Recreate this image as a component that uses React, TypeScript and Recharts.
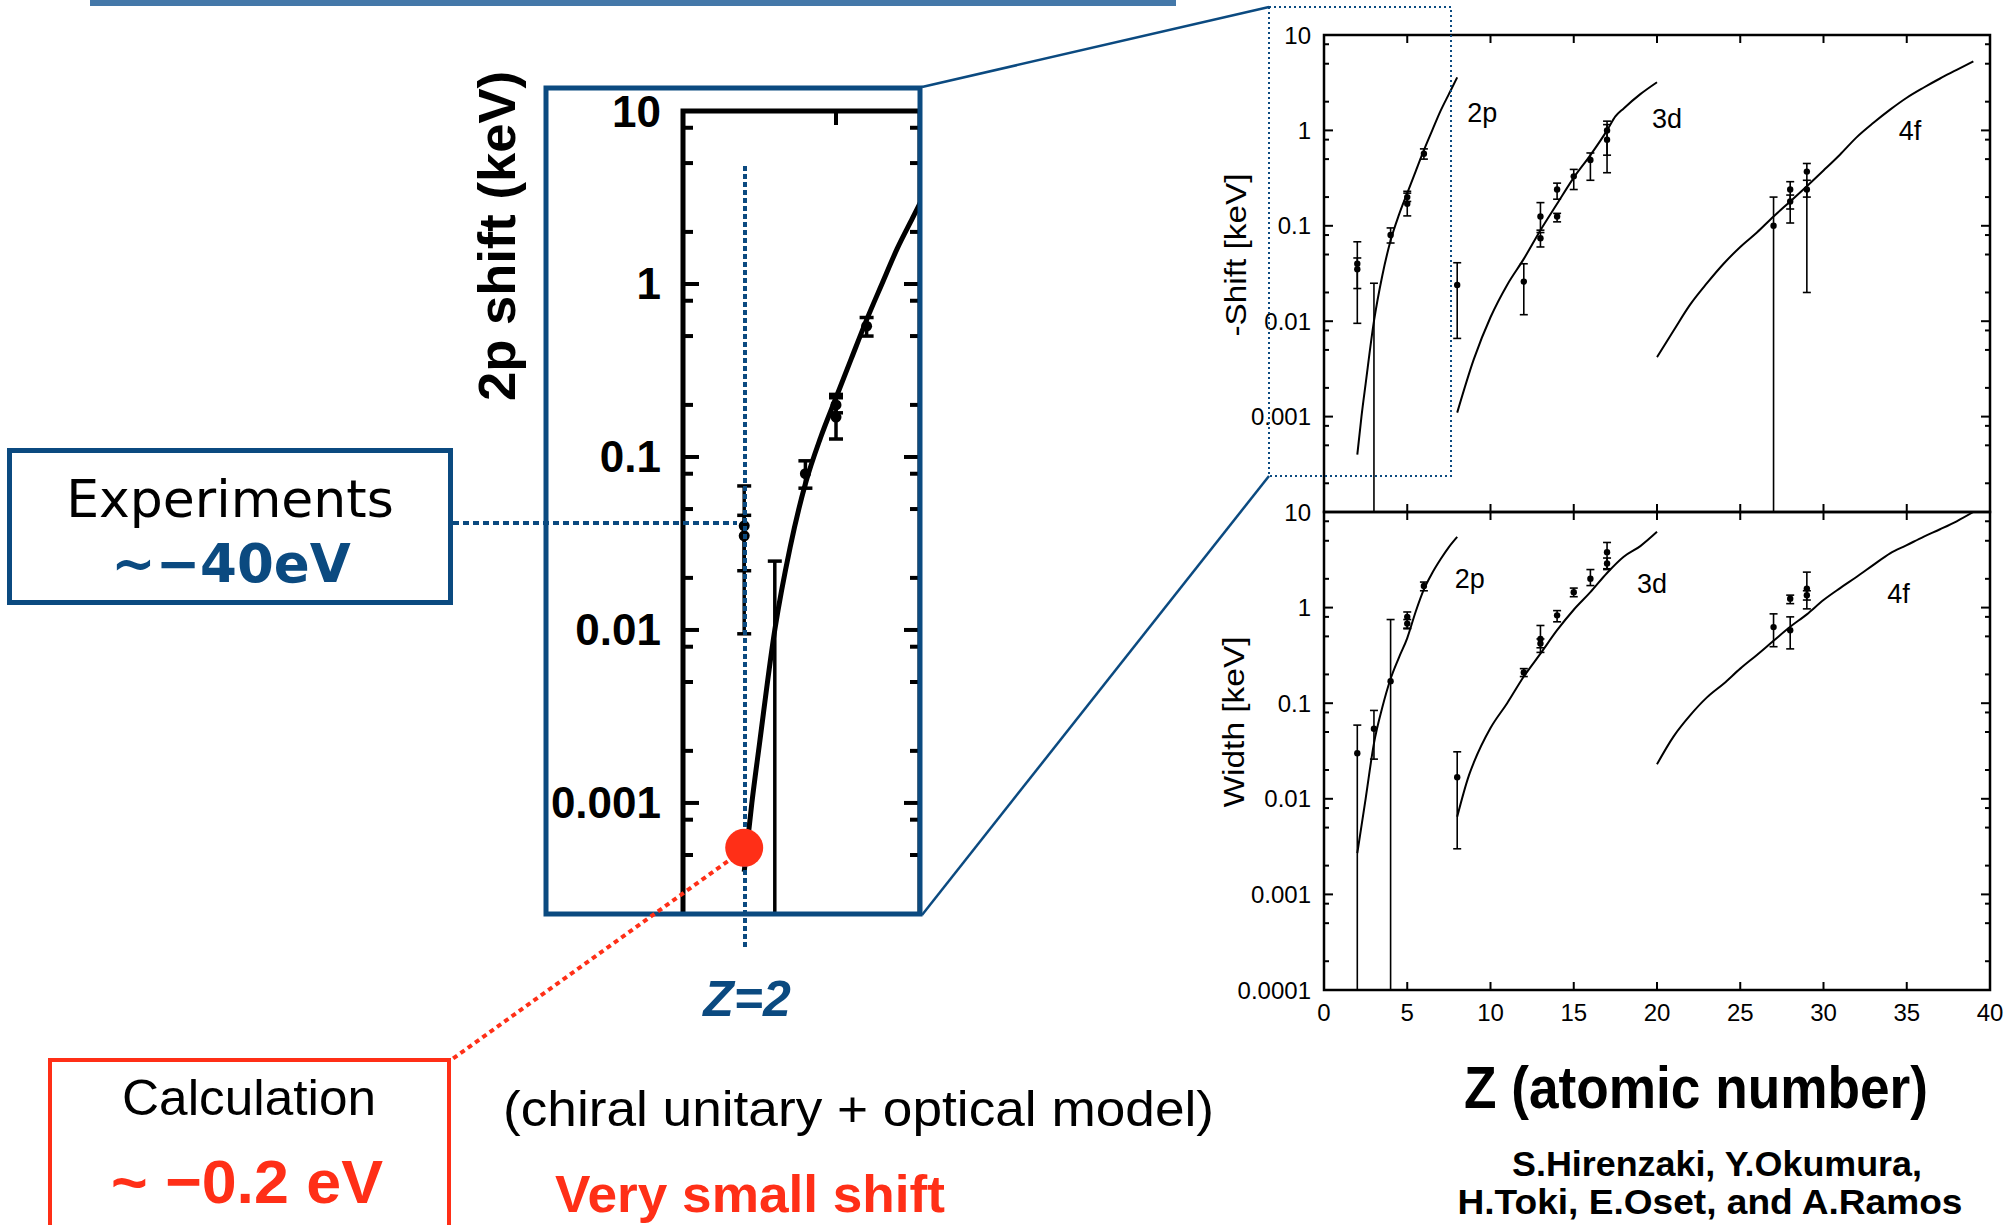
import React from "react";
import {
  ComposedChart,
  Line,
  Scatter,
  ErrorBar,
  XAxis,
  YAxis,
  ReferenceArea,
  ReferenceDot,
} from "recharts";

// theory curves (Z, keV)
const shift2p = [
  { z: 2, v: 0.0004 }, { z: 2.25, v: 0.001 }, { z: 2.5, v: 0.0022 }, { z: 3, v: 0.01 },
  { z: 3.5, v: 0.03 }, { z: 4, v: 0.07 }, { z: 4.5, v: 0.13 }, { z: 5, v: 0.22 },
  { z: 5.5, v: 0.37 }, { z: 6, v: 0.62 }, { z: 6.5, v: 1.0 }, { z: 7, v: 1.6 },
  { z: 7.5, v: 2.4 }, { z: 8, v: 3.6 },
];
const shift3d = [
  { z: 8, v: 0.0011 }, { z: 9, v: 0.004 }, { z: 10, v: 0.011 }, { z: 11, v: 0.024 },
  { z: 12, v: 0.045 }, { z: 13, v: 0.09 }, { z: 14, v: 0.17 }, { z: 15, v: 0.32 },
  { z: 16, v: 0.55 }, { z: 17, v: 1.0 }, { z: 17.5, v: 1.4 }, { z: 18, v: 1.7 },
  { z: 19, v: 2.4 }, { z: 20, v: 3.2 },
];
const shift4f = [
  { z: 20, v: 0.0042 }, { z: 21, v: 0.008 }, { z: 22, v: 0.015 }, { z: 23, v: 0.025 },
  { z: 24, v: 0.04 }, { z: 25, v: 0.06 }, { z: 26, v: 0.085 }, { z: 27, v: 0.125 },
  { z: 28, v: 0.18 }, { z: 29, v: 0.26 }, { z: 30, v: 0.38 }, { z: 31, v: 0.56 },
  { z: 32, v: 0.85 }, { z: 33, v: 1.2 }, { z: 34, v: 1.65 }, { z: 35, v: 2.2 },
  { z: 36, v: 2.8 }, { z: 37, v: 3.5 }, { z: 38, v: 4.3 }, { z: 39, v: 5.3 },
];
const width2p = [
  { z: 2, v: 0.0027 }, { z: 2.5, v: 0.01 }, { z: 3, v: 0.038 }, { z: 3.5, v: 0.09 },
  { z: 4, v: 0.18 }, { z: 4.5, v: 0.3 }, { z: 5, v: 0.48 }, { z: 5.5, v: 0.9 },
  { z: 6, v: 1.55 }, { z: 6.5, v: 2.3 }, { z: 7, v: 3.2 }, { z: 7.5, v: 4.3 }, { z: 8, v: 5.5 },
];
const width3d = [
  { z: 8, v: 0.0065 }, { z: 8.7, v: 0.0175 }, { z: 9, v: 0.024 }, { z: 10, v: 0.055 },
  { z: 11, v: 0.1 }, { z: 12, v: 0.19 }, { z: 13, v: 0.33 }, { z: 14, v: 0.58 },
  { z: 15, v: 0.95 }, { z: 16, v: 1.45 }, { z: 17, v: 2.3 }, { z: 18, v: 3.4 },
  { z: 19, v: 4.4 }, { z: 20, v: 6.2 },
];
const width4f = [
  { z: 20, v: 0.023 }, { z: 21, v: 0.045 }, { z: 22, v: 0.075 }, { z: 23, v: 0.115 },
  { z: 24, v: 0.16 }, { z: 25, v: 0.23 }, { z: 26, v: 0.32 }, { z: 27, v: 0.45 },
  { z: 28, v: 0.63 }, { z: 29, v: 0.85 }, { z: 30, v: 1.2 }, { z: 31, v: 1.6 },
  { z: 32, v: 2.1 }, { z: 33, v: 2.8 }, { z: 34, v: 3.7 }, { z: 35, v: 4.5 },
  { z: 36, v: 5.5 }, { z: 37, v: 6.6 }, { z: 38, v: 8.0 }, { z: 39, v: 10 },
];

// measured points: value with lower / upper end of the error bar (keV)
const shiftExp = [
  { z: 2, v: 0.035, lo: 0.0095, hi: 0.068 },
  { z: 2, v: 0.04, lo: 0.022, hi: 0.046 },
  { z: 3, v: 0.025, lo: 0.0001, hi: 0.025, dot: false },
  { z: 4, v: 0.08, lo: 0.066, hi: 0.095 },
  { z: 5, v: 0.17, lo: 0.127, hi: 0.23 },
  { z: 5, v: 0.2, lo: 0.18, hi: 0.22 },
  { z: 6, v: 0.57, lo: 0.5, hi: 0.64 },
  { z: 8, v: 0.024, lo: 0.0066, hi: 0.041 },
  { z: 12, v: 0.026, lo: 0.0117, hi: 0.04 },
  { z: 13, v: 0.125, lo: 0.09, hi: 0.175 },
  { z: 13, v: 0.074, lo: 0.06, hi: 0.085 },
  { z: 14, v: 0.125, lo: 0.11, hi: 0.135 },
  { z: 14, v: 0.24, lo: 0.19, hi: 0.28 },
  { z: 15, v: 0.33, lo: 0.24, hi: 0.39 },
  { z: 16, v: 0.49, lo: 0.3, hi: 0.58 },
  { z: 17, v: 0.8, lo: 0.36, hi: 1.15 },
  { z: 17, v: 1.0, lo: 0.55, hi: 1.25 },
  { z: 27, v: 0.1, lo: 0.0001, hi: 0.2 },
  { z: 28, v: 0.24, lo: 0.107, hi: 0.29 },
  { z: 28, v: 0.18, lo: 0.15, hi: 0.21 },
  { z: 29, v: 0.37, lo: 0.02, hi: 0.45 },
  { z: 29, v: 0.24, lo: 0.2, hi: 0.3 },
];
const widthExp = [
  { z: 2, v: 0.03, lo: 0.0001, hi: 0.059 },
  { z: 3, v: 0.054, lo: 0.026, hi: 0.084 },
  { z: 4, v: 0.17, lo: 0.0001, hi: 0.75 },
  { z: 5, v: 0.8, lo: 0.61, hi: 0.9 },
  { z: 5, v: 0.68, lo: 0.6, hi: 0.75 },
  { z: 6, v: 1.68, lo: 1.5, hi: 1.85 },
  { z: 8, v: 0.0168, lo: 0.003, hi: 0.031 },
  { z: 12, v: 0.21, lo: 0.19, hi: 0.23 },
  { z: 13, v: 0.47, lo: 0.34, hi: 0.65 },
  { z: 13, v: 0.42, lo: 0.38, hi: 0.47 },
  { z: 14, v: 0.83, lo: 0.71, hi: 0.93 },
  { z: 15, v: 1.45, lo: 1.3, hi: 1.6 },
  { z: 16, v: 2.0, lo: 1.7, hi: 2.5 },
  { z: 17, v: 3.8, lo: 2.55, hi: 4.8 },
  { z: 17, v: 2.9, lo: 2.5, hi: 3.3 },
  { z: 27, v: 0.625, lo: 0.39, hi: 0.86 },
  { z: 28, v: 0.58, lo: 0.37, hi: 0.8 },
  { z: 28, v: 1.24, lo: 1.1, hi: 1.35 },
  { z: 29, v: 1.58, lo: 0.97, hi: 2.35 },
  { z: 29, v: 1.35, lo: 1.2, hi: 1.5 },
];

// calculated 2p shift at Z=2 (highlighted red dot)
const calcPoint = [{ z: 2, v: 0.00055 }];

const shiftCurveLabels = [
  { text: "2p", z: 9.5, v: 1.54 },
  { text: "3d", z: 20.6, v: 1.33 },
  { text: "4f", z: 35.2, v: 1.0 },
];
const widthCurveLabels = [
  { text: "2p", z: 8.75, v: 2.04 },
  { text: "3d", z: 19.7, v: 1.81 },
  { text: "4f", z: 34.5, v: 1.42 },
];

const zTicks = [0, 5, 10, 15, 20, 25, 30, 35, 40];
const decadeTicks = [0.0001, 0.001, 0.01, 0.1, 1, 10];
const minorTicks = [0.0002, 0.0005, 0.0008, 0.002, 0.005, 0.008, 0.02, 0.05, 0.08, 0.2, 0.5, 0.8, 2, 5, 8];
const shiftTickLabels = ["10", "1", "0.1", "0.01", "0.001"];
const widthTickLabels = ["10", "1", "0.1", "0.01", "0.001", "0.0001"];

const LEFT_ZMAX = 7.745;
const LEFT_FLOOR = 0.000225;

const NAVY = "#0b4a80";
const RED = "#ff2f17";
const SANS = "Liberation Sans, Arial, Helvetica, sans-serif";

const allTicks = [...decadeTicks, ...minorTicks].sort((a, b) => a - b);
const leftTicks = allTicks.filter((t) => t >= LEFT_FLOOR);

const withErr = (rows: typeof shiftExp) => rows.map((r) => ({ ...r, err: [r.v - r.lo, r.hi - r.v] }));

type YTickOpts = {
  plotW: number; len: number; minorLen: number; sw: number;
  labels: string[]; gap: number; font: number; bold?: boolean;
};

function yTick(o: YTickOpts) {
  return (p: any) => {
    const v = p.payload.value;
    const major = decadeTicks.includes(v);
    const l = major ? o.len : o.minorLen;
    const label = String(v);
    return (
      <g>
        <line x1={p.x} y1={p.y} x2={p.x + l} y2={p.y} stroke="#000" strokeWidth={o.sw} />
        <line x1={p.x + o.plotW} y1={p.y} x2={p.x + o.plotW - l} y2={p.y} stroke="#000" strokeWidth={o.sw} />
        {major && o.labels.includes(label) ? (
          <text x={p.x - o.gap} y={p.y} textAnchor="end" dominantBaseline="central"
            fontSize={o.font} fontWeight={o.bold ? 700 : 400} fontFamily={SANS} fill="#000">
            {label}
          </text>
        ) : null}
      </g>
    );
  };
}

function zTick(o: { plotH: number; len: number; sw: number; labels: boolean; bottom: boolean }) {
  return (p: any) => (
    <g>
      {o.bottom && <line x1={p.x} y1={p.y} x2={p.x} y2={p.y - o.len} stroke="#000" strokeWidth={o.sw} />}
      <line x1={p.x} y1={p.y - o.plotH} x2={p.x} y2={p.y - o.plotH + o.len} stroke="#000" strokeWidth={o.sw} />
      {o.labels && (
        <text x={p.x} y={p.y + 22} textAnchor="middle" dominantBaseline="central"
          fontSize={24} fontFamily={SANS} fill="#000">
          {p.payload.value}
        </text>
      )}
    </g>
  );
}

const smallDot = (r: number) => (p: any) =>
  p.payload.dot === false ? <g /> : <circle cx={p.cx} cy={p.cy} r={r} fill="#000" />;

function RightPanel(props: {
  top: number; height: number; marginTop: number; axisH: number;
  curves: { z: number; v: number }[][]; exp: any[]; curveLabels: typeof shiftCurveLabels;
  tickLabels: string[]; zLabels: boolean;
}) {
  const plotW = 808 - 124 - 18;
  const plotH = props.height - props.marginTop - props.axisH;
  return (
    <div style={{ position: "absolute", left: 1200, top: props.top }}>
      <ComposedChart width={808} height={props.height}
        margin={{ top: props.marginTop, right: 18, left: 0, bottom: 0 }}>
        <XAxis type="number" dataKey="z" domain={[0, 40]} ticks={zTicks} interval={0}
          allowDataOverflow axisLine={false} tickLine={false} tickSize={0} tickMargin={0}
          height={props.axisH} tick={zTick({ plotH, len: 8, sw: 2, labels: props.zLabels, bottom: true })} />
        <YAxis type="number" scale="log" domain={[0.0001, 10]} ticks={allTicks} interval={0}
          allowDataOverflow axisLine={false} tickLine={false} tickSize={0} tickMargin={0} width={124}
          tick={yTick({ plotW, len: 9, minorLen: 5, sw: 2, labels: props.tickLabels, gap: 13, font: 24 })} />
        <ReferenceArea x1={0} x2={40} y1={0.0001} y2={10} fill="none" fillOpacity={0}
          stroke="#000" strokeWidth={2.5} />
        {props.curves.map((c, i) => (
          <Line key={i} data={c} dataKey="v" type="monotone" dot={false} stroke="#000"
            strokeWidth={2} isAnimationActive={false} />
        ))}
        <Scatter data={props.exp} dataKey="v" isAnimationActive={false} shape={smallDot(3.2)}>
          <ErrorBar dataKey="err" direction="y" width={4} stroke="#000" strokeWidth={1.6} />
        </Scatter>
        {props.curveLabels.map((l) => (
          <ReferenceDot key={l.text} x={l.z} y={l.v} r={0} fill="none" stroke="none"
            label={{ value: l.text, position: "center", fontSize: 27, fill: "#000", fontFamily: SANS }} />
        ))}
      </ComposedChart>
    </div>
  );
}

function LeftAxes() {
  return (
    <>
      <XAxis type="number" dataKey="z" domain={[0, LEFT_ZMAX]} ticks={[5]} interval={0}
        allowDataOverflow axisLine={false} tickLine={false} tickSize={0} tickMargin={0} height={1}
        tick={zTick({ plotH: 804, len: 14, sw: 4, labels: false, bottom: false })} />
      <YAxis type="number" scale="log" domain={[LEFT_FLOOR, 10]} ticks={leftTicks} interval={0}
        allowDataOverflow axisLine={false} tickLine={false} tickSize={0} tickMargin={0} width={139}
        tick={yTick({ plotW: 237, len: 16, minorLen: 10, sw: 4, labels: shiftTickLabels, gap: 22, font: 44, bold: true })} />
    </>
  );
}

export default function App() {
  const shiftRows = withErr(shiftExp);
  const widthRows = withErr(widthExp);
  const zoomRows = shiftRows.filter((r) => r.z < LEFT_ZMAX);

  return (
    <div style={{ position: "absolute", left: 0, top: 0, width: 2008, height: 1225, background: "#fff", overflow: "hidden" }}>
      <RightPanel top={0} height={520} marginTop={35} axisH={8}
        curves={[shift2p, shift3d, shift4f]} exp={shiftRows} curveLabels={shiftCurveLabels}
        tickLabels={shiftTickLabels} zLabels={false} />
      <RightPanel top={500} height={530} marginTop={12} axisH={40}
        curves={[width2p, width3d, width4f]} exp={widthRows} curveLabels={widthCurveLabels}
        tickLabels={widthTickLabels} zLabels={true} />

      {/* magnified 2p shift panel */}
      <div style={{ position: "absolute", left: 544, top: 86, width: 378, height: 830, overflow: "hidden" }}>
        <ComposedChart width={378} height={830} margin={{ top: 25, right: 2, left: 0, bottom: 0 }}>
          {LeftAxes()}
          <ReferenceArea x1={0} x2={LEFT_ZMAX} y1={LEFT_FLOOR} y2={10} fill="none" fillOpacity={0}
            stroke="#000" strokeWidth={5} ifOverflow="visible" />
          <Line data={shift2p} dataKey="v" type="monotone" dot={false} stroke="#000"
            strokeWidth={5} isAnimationActive={false} />
          <Scatter data={zoomRows} dataKey="v" isAnimationActive={false} shape={smallDot(5.5)}>
            <ErrorBar dataKey="err" direction="y" width={7} stroke="#000" strokeWidth={3.5} />
          </Scatter>
        </ComposedChart>
      </div>

      <svg width={2008} height={1225} style={{ position: "absolute", left: 0, top: 0, pointerEvents: "none" }}>
        <rect x={90} y={0} width={1086} height={6} fill="#4478a9" />

        {/* zoom frame and connectors */}
        <rect x={546} y={88} width={374} height={826} fill="none" stroke={NAVY} strokeWidth={5} />
        <line x1={922} y1={87} x2={1269} y2={7} stroke={NAVY} strokeWidth={2.5} />
        <line x1={922} y1={915} x2={1269} y2={476} stroke={NAVY} strokeWidth={2.5} />
        <rect x={1269} y={7} width={182} height={469} fill="none" stroke={NAVY} strokeWidth={2} strokeDasharray="2 3" />

        {/* Z=2 guide lines */}
        <line x1={745} y1={166} x2={745} y2={950} stroke={NAVY} strokeWidth={4} strokeDasharray="5 3" />
        <line x1={453} y1={523} x2={737} y2={523} stroke={NAVY} strokeWidth={4} strokeDasharray="6 4" />
        <line x1={735} y1={856} x2={451} y2={1060} stroke={RED} strokeWidth={4} strokeDasharray="5 4" />

        <text x={0} y={0} transform="translate(497,236) rotate(-90)" textAnchor="middle" dominantBaseline="central"
          fontSize={52} fontWeight={700} fontFamily={SANS} textLength={330} lengthAdjust="spacingAndGlyphs">
          2p shift (keV)
        </text>
        <text x={747} y={1016} textAnchor="middle" fontSize={50} fontWeight={700} fontStyle="italic"
          fontFamily={SANS} fill={NAVY}>Z=2</text>

        {/* experiments box */}
        <rect x={9.5} y={450.5} width={441} height={152} fill="none" stroke={NAVY} strokeWidth={5} />
        <text x={230} y={517} textAnchor="middle" fontSize={52} fontFamily="DejaVu Sans, sans-serif" fill="#000">
          Experiments
        </text>
        <text x={231} y={582} textAnchor="middle" fontSize={53} fontWeight={700}
          fontFamily="DejaVu Sans, sans-serif" fill={NAVY}>~−40eV</text>

        {/* calculation box */}
        <rect x={50} y={1060} width={399} height={220} fill="none" stroke={RED} strokeWidth={4} />
        <text x={249} y={1115} textAnchor="middle" fontSize={50} fontFamily={SANS} fill="#000"
          textLength={254} lengthAdjust="spacingAndGlyphs">Calculation</text>
        <text x={247} y={1203} textAnchor="middle" fontSize={62} fontWeight={700} fontFamily={SANS} fill={RED}
          textLength={272} lengthAdjust="spacingAndGlyphs">~ −0.2 eV</text>

        <text x={503} y={1126} fontSize={50} fontFamily={SANS} fill="#000"
          textLength={711} lengthAdjust="spacingAndGlyphs">(chiral unitary + optical model)</text>
        <text x={555} y={1212} fontSize={52} fontWeight={700} fontFamily={SANS} fill={RED}
          textLength={390} lengthAdjust="spacingAndGlyphs">Very small shift</text>

        {/* right panel titles */}
        <text x={0} y={0} transform="translate(1235,255) rotate(-90)" textAnchor="middle" dominantBaseline="central"
          fontSize={30} fontFamily={SANS} textLength={163} lengthAdjust="spacingAndGlyphs">-Shift [keV]</text>
        <text x={0} y={0} transform="translate(1233,722) rotate(-90)" textAnchor="middle" dominantBaseline="central"
          fontSize={30} fontFamily={SANS} textLength={171} lengthAdjust="spacingAndGlyphs">Width [keV]</text>
        <text x={1696} y={1108} textAnchor="middle" fontSize={60} fontWeight={700} fontFamily={SANS}
          textLength={464} lengthAdjust="spacingAndGlyphs">Z (atomic number)</text>
        <text x={1717} y={1176} textAnchor="middle" fontSize={35} fontWeight={700} fontFamily={SANS}
          textLength={410} lengthAdjust="spacingAndGlyphs">S.Hirenzaki, Y.Okumura,</text>
        <text x={1710} y={1214} textAnchor="middle" fontSize={35} fontWeight={700} fontFamily={SANS}
          textLength={505} lengthAdjust="spacingAndGlyphs">H.Toki, E.Oset, and A.Ramos</text>
      </svg>

      {/* red marker for the calculated value, drawn above the guide lines */}
      <div style={{ position: "absolute", left: 544, top: 86, width: 378, height: 830, pointerEvents: "none" }}>
        <ComposedChart width={378} height={830} margin={{ top: 25, right: 2, left: 139, bottom: 1 }}>
          <XAxis hide type="number" dataKey="z" domain={[0, LEFT_ZMAX]} allowDataOverflow />
          <YAxis hide type="number" scale="log" domain={[LEFT_FLOOR, 10]} allowDataOverflow />
          <Scatter data={calcPoint} dataKey="v" isAnimationActive={false}
            shape={(p: any) => <circle cx={p.cx} cy={p.cy} r={19} fill={RED} />} />
        </ComposedChart>
      </div>
    </div>
  );
}
